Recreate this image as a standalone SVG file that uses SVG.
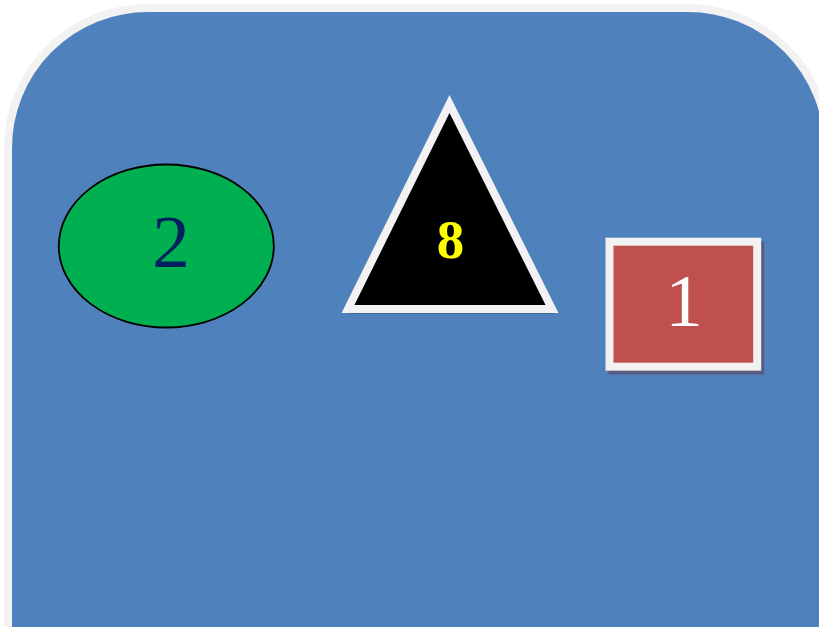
<svg xmlns="http://www.w3.org/2000/svg" width="819" height="627" viewBox="0 0 819 627">
<style>
.frame{stroke:#F2F2F2;stroke-width:8;stroke-linejoin:miter}
.num{font-family:"Liberation Serif","Times New Roman",serif;text-anchor:middle}
</style>
<rect width="819" height="627" fill="#FFFFFF"/>
<g id="background">
<rect x="8" y="8" width="820" height="800" rx="140" ry="140" fill="#4F81BD" class="frame"/>
</g>
<g id="node-ellipse">
<ellipse cx="166.3" cy="246" rx="107.5" ry="81.5" fill="#00B050" stroke="#000000" stroke-width="1.8"/>
<text class="num" x="171" y="267" font-size="75" fill="#002060">2</text>
</g>
<g id="node-triangle">
<polygon points="450.5,109 349.5,314 553.5,314" fill="#3B4A66" opacity="0.45"/>
<polygon points="449.5,104 348,309 552,309" fill="#000000" class="frame"/>
<text class="num" x="450.5" y="257.5" font-size="55" font-weight="bold" fill="#FFFF00">8</text>
</g>
<g id="node-square">
<rect x="612.5" y="245.5" width="147.7" height="125" fill="#5A5B80" stroke="#5A5B80" stroke-width="8"/>
<rect x="609.5" y="241.7" width="147.7" height="125" fill="#C0504D" class="frame"/>
<text class="num" x="684" y="326" font-size="75" fill="#FFFFFF">1</text>
</g>
<g id="connectors"/>
</svg>
